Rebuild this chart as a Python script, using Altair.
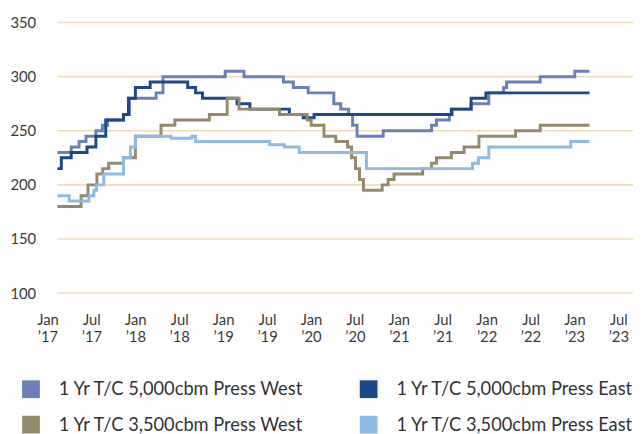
import altair as alt
import pandas as pd

# Months since Jan 2017 (0 = Jan '17) and 1-year T/C rates (US$ '000 / month)
series_names = [
    "1 Yr T/C 5,000cbm Press West",
    "1 Yr T/C 5,000cbm Press East",
    "1 Yr T/C 3,500cbm Press West",
    "1 Yr T/C 3,500cbm Press East",
]
series_colors = ["#6b7fb9", "#1b4886", "#948a6b", "#8cbce3"]

w5000_month = [1.35, 3.24, 4.32, 5.26, 6.61, 7.5, 8.2, 10.39, 11.2, 14.84, 15.78, 24.28, 26.85,
               32.24, 33.59, 35.62, 39.12, 40.07, 41.15, 41.69, 42.3, 45.87, 52.48, 53.15,
               54.91, 55.3, 57.88, 60.3, 62.33, 62.73, 67.32, 72.04, 74.06]
w5000_value = [230, 235, 240, 245, 250, 255, 260, 265, 280, 285, 300, 305, 300,
               295, 290, 285, 275, 270, 265, 255, 245, 250, 255, 260,
               265, 270, 275, 285, 290, 295, 300, 305, 305]

e5000_month = [1.35, 1.89, 3.24, 5.40, 6.61, 7.96, 10.39, 11.06, 12.01, 14.03, 19.16, 20.24,
               21.18, 25.90, 27.66, 33.05, 34.94, 36.43, 55.18, 57.88, 59.90, 74.06]
e5000_value = [215, 225, 230, 235, 245, 260, 265, 280, 290, 295, 290, 285,
               280, 275, 270, 265, 262, 265, 270, 280, 285, 285]

w3500_month = [1.35, 4.59, 5.53, 6.75, 7.55, 8.36, 10.39, 12.01, 15.51, 17.40, 22.12, 24.55,
               26.17, 31.70, 35.48, 36.02, 37.77, 39.39, 41.01, 41.55, 42.09, 42.63, 43.17,
               45.73, 46.54, 47.35, 51.26, 52.48, 53.15, 55.18, 56.93, 58.95, 63.95, 67.32, 74.06]
w3500_value = [180, 190, 200, 210, 215, 220, 225, 245, 255, 260, 265, 280,
               270, 265, 260, 255, 245, 240, 235, 225, 215, 205, 195,
               200, 205, 210, 215, 220, 225, 230, 235, 245, 250, 255, 255]

e3500_month = [1.35, 2.97, 5.67, 6.34, 6.68, 7.69, 10.39, 11.33, 12.01, 16.86, 19.70, 20.24,
               30.35, 32.38, 34.40, 43.58, 58.08, 58.89, 60.30, 71.50, 74.06]
e3500_value = [190, 185, 190, 195, 200, 210, 225, 235, 245, 243, 245, 240,
               237, 235, 230, 215, 220, 225, 235, 240, 240]

y_ticks = [100, 150, 200, 250, 300, 350]
x_tick_months = [0, 6, 12, 18, 24, 30, 36, 42, 48, 54, 60, 66, 72, 78]
x_tick_labels = ["Jan ’17", "Jul ’17", "Jan ’18", "Jul ’18", "Jan ’19", "Jul ’19", "Jan ’20",
                 "Jul ’20", "Jan ’21", "Jul ’21", "Jan ’22", "Jul ’22", "Jan ’23", "Jul ’23"]
x_domain = [0, 80]
grid_start_month = 1.35

FONT = "Lato"

rows = []
for name, months, values in zip(
    series_names,
    [w5000_month, e5000_month, w3500_month, e3500_month],
    [w5000_value, e5000_value, w3500_value, e3500_value],
):
    for m, v in zip(months, values):
        rows.append({"series": name, "month": m, "rate": v})
df = pd.DataFrame(rows)

grid_df = pd.DataFrame({"y": y_ticks})

label_expr = (
    "split([" + ",".join(f"'{t}'" for t in x_tick_labels) + "][indexof(["
    + ",".join(str(m) for m in x_tick_months) + "], datum.value)], ' ')"
)

x_scale = alt.Scale(domain=x_domain, nice=False, zero=False)
y_scale = alt.Scale(domain=[100, 350], nice=False, zero=False)

grid = alt.Chart(grid_df).mark_rule(color="#f1ddb4", strokeWidth=1.6).encode(
    y=alt.Y("y:Q", scale=y_scale),
    x=alt.datum(grid_start_month),
    x2=alt.datum(x_domain[1]),
)

lines = alt.Chart(df).mark_line(interpolate="step-after").encode(
    x=alt.X(
        "month:Q",
        scale=x_scale,
        axis=alt.Axis(
            values=x_tick_months, labelExpr=label_expr, title=None, grid=False,
            domain=False, ticks=False, tickSize=0, labelPadding=20,
            labelFont=FONT, labelFontSize=15, labelColor="#3a3a3a",
            labelLineHeight=17, labelAlign="center", labelOverlap=False,
        ),
    ),
    y=alt.Y(
        "rate:Q",
        scale=y_scale,
        axis=alt.Axis(
            values=y_ticks, title=None, grid=False, domain=False, ticks=False,
            tickSize=0, labelPadding=12, labelFont=FONT, labelFontSize=15,
            labelColor="#3a3a3a",
        ),
    ),
    color=alt.Color(
        "series:N",
        scale=alt.Scale(domain=series_names, range=series_colors),
        sort=series_names,
        legend=alt.Legend(
            title=None, orient="none", direction="horizontal",
            legendX=-26, legendY=362, columns=2,
            symbolType="square", symbolSize=81, symbolStrokeWidth=9,
            labelFont=FONT, labelFontSize=18.5, labelColor="#333333",
            labelOffset=19, labelLimit=400, columnPadding=41, rowPadding=-10,
            padding=0,
        ),
    ),
    strokeWidth=alt.value(3),
)

chart = alt.layer(grid, lines).properties(
    width=593,
    height=274,
    padding={"left": 40, "top": 12, "right": 0, "bottom": 140},
    autosize=alt.AutoSizeParams(type="none"),
).configure_view(stroke=None)

chart.save("out.html", embed_options={"renderer": "svg", "actions": False})
